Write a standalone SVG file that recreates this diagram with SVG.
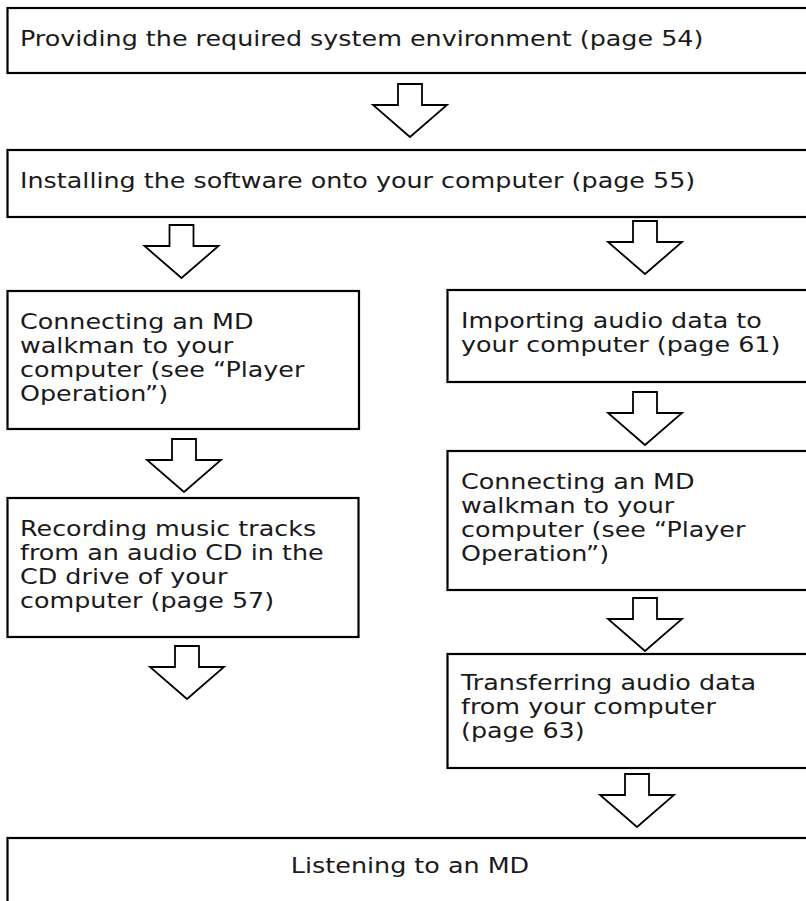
<svg xmlns="http://www.w3.org/2000/svg" width="806" height="901" viewBox="0 0 806 901">
<style>
.box{fill:#fff;stroke:#000;stroke-width:2.2}
.arr{fill:#fff;stroke:#000;stroke-width:1.8;stroke-linejoin:miter}
.t{font-family:"DejaVu Sans","Verdana",sans-serif;font-size:21px;fill:#1a1a1a}
</style>
<defs>
<path id="arrow" d="M-12,0 L12,0 L12,21 L37,21 L0,53 L-37,21 L-12,21 Z"/>
</defs>
<rect width="806" height="901" fill="#fff"/>
<g id="connectors">
<use href="#arrow" class="arr" x="410" y="84"/>
<use href="#arrow" class="arr" x="181.5" y="225"/>
<use href="#arrow" class="arr" x="645" y="221"/>
<use href="#arrow" class="arr" x="184" y="439"/>
<use href="#arrow" class="arr" x="645" y="392"/>
<use href="#arrow" class="arr" x="187" y="646"/>
<use href="#arrow" class="arr" x="645" y="598"/>
<use href="#arrow" class="arr" x="637" y="774"/>
</g>
<g id="n1">
<rect class="box" x="7.5" y="8" width="805" height="65"/>
<text class="t" transform="scale(1.21,1)" x="16.53" y="46">Providing the required system environment (page 54)</text>
</g>
<g id="n2">
<rect class="box" x="7.5" y="150" width="805" height="67"/>
<text class="t" transform="scale(1.21,1)" x="16.53" y="188">Installing the software onto your computer (page 55)</text>
</g>
<g id="n3">
<rect class="box" x="7.5" y="291" width="351.5" height="138"/>
<text class="t" transform="scale(1.21,1)" y="329"><tspan x="16.53">Connecting an MD</tspan><tspan x="16.53" dy="24">walkman to your</tspan><tspan x="16.53" dy="24">computer (see “Player</tspan><tspan x="16.53" dy="24">Operation”)</tspan></text>
</g>
<g id="n4">
<rect class="box" x="447.5" y="290" width="395" height="92"/>
<text class="t" transform="scale(1.21,1)" y="328"><tspan x="381">Importing audio data to</tspan><tspan x="381" dy="24">your computer (page 61)</tspan></text>
</g>
<g id="n5">
<rect class="box" x="7.5" y="498" width="351" height="139"/>
<text class="t" transform="scale(1.21,1)" y="536"><tspan x="16.53">Recording music tracks</tspan><tspan x="16.53" dy="24">from an audio CD in the</tspan><tspan x="16.53" dy="24">CD drive of your</tspan><tspan x="16.53" dy="24">computer (page 57)</tspan></text>
</g>
<g id="n6">
<rect class="box" x="447.5" y="451" width="395" height="139"/>
<text class="t" transform="scale(1.21,1)" y="489"><tspan x="381">Connecting an MD</tspan><tspan x="381" dy="24">walkman to your</tspan><tspan x="381" dy="24">computer (see “Player</tspan><tspan x="381" dy="24">Operation”)</tspan></text>
</g>
<g id="n7">
<rect class="box" x="447.5" y="654" width="395" height="114"/>
<text class="t" transform="scale(1.21,1)" y="690"><tspan x="381">Transferring audio data</tspan><tspan x="381" dy="24">from your computer</tspan><tspan x="381" dy="24">(page 63)</tspan></text>
</g>
<g id="n8">
<rect class="box" x="7.5" y="838" width="805" height="80"/>
<text class="t" transform="scale(1.21,1)" x="338.84" y="873" text-anchor="middle">Listening to an MD</text>
</g>
</svg>
